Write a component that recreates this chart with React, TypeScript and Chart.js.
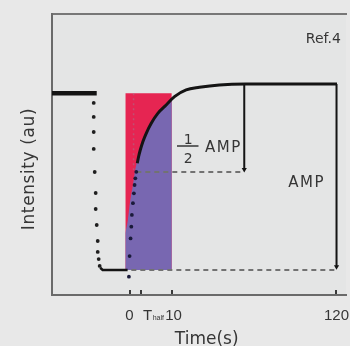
import React, { useEffect, useRef } from 'react';
import { Chart, registerables } from 'chart.js';

Chart.register(...registerables);

// Schematic (broken) time axis in display units: 0..10 s stretched, 10..120 s compressed
const xTickPositions = [0, 2.6, 10, 48.1];
const xTickLabels = ['0', 'T', '10', '120'];
const xTickSubs = ['', 'half', '', ''];
const xTickShift = [-0.5, 2, 1.5, 0.5];

const xMin = -18.1;
const xMax = 50.47;
const yMin = -13.44;
const yMax = 137.63;

// initial (pre-bleach) intensity level
const initialX = [-18.14, -7.67];
const initialY = [95, 95];

// bleach drop (dotted)
const descentX = [-8.37, -8.37, -8.37, -8.37, -8.14, -7.91, -7.91, -7.67, -7.44, -7.44, -7.21, -6.98];
const descentY = [89.8, 82.3, 74.2, 65.1, 52.7, 41.4, 32.8, 24.2, 15.6, 9.7, 5.9, 2.2];

// post-bleach low level
const lowX = [-6.86, -6.28, -0.47];
const lowY = [1.2, 0, 0];

// recovery, early dotted part
const recDotsX = [-0.16, 0, 0.23, 0.4, 0.53, 0.77, 1.0, 1.16, 1.33, 1.56];
const recDotsY = [-3.6, 7.5, 17.0, 23.3, 29.6, 35.9, 41.2, 45.7, 49.3, 52.8];

// recovery, solid part to plateau
const curveX = [1.79, 2.09, 2.49, 3.09, 3.88, 5.05, 6.58, 8.53, 10.47, 13.19, 16.28, 20.93, 27.14, 48.37];
const curveY = [57.4, 60.9, 64.5, 69.0, 73.5, 78.9, 84.2, 88.7, 93.2, 96.8, 98.2, 99.5, 100, 100];

// purple area under the recovery curve
const purpleX = [-1.0, -0.4, 0.16, 0.77, 1.23, 1.7, 2.33, 3.02, 3.84, 5.0, 6.51, 8.49, 9.84];
const purpleY = [19.9, 26.9, 37.6, 45.7, 52.7, 58.1, 64.5, 69.1, 73.7, 79.0, 84.4, 89.0, 92.2];

// red rectangle (initial level over 0..10 s window)
const redX = [-1.0, 9.84];
const redY = [95, 95];

// faint guide inside red region
const guideX = [0.93, 0.93];
const guideY = [95, 53];

const plateau = 100;
const halfLevel = 52.7;
const halfArrowX = 26.74;
const ampArrowX = 48.26;
const halfDashX = [1.56, 26.74];
const baseDashX = [0.4, 48.0];

const zip = (xs: number[], ys: number[]) => xs.map((x, i) => ({ x, y: ys[i] }));

const TEXT = '#363636';

const decor = {
  id: 'decor',
  beforeDraw(chart: any) {
    const { ctx, width, height, chartArea: ca } = chart;
    ctx.save();
    ctx.fillStyle = '#e8e8e8';
    ctx.fillRect(0, 0, width, height);
    ctx.fillStyle = '#e4e5e5';
    ctx.fillRect(ca.left, ca.top, ca.right - ca.left, ca.bottom - ca.top);
    ctx.restore();
  },
  afterDraw(chart: any) {
    const { ctx, chartArea: ca } = chart;
    const xs = chart.scales.x;
    const ys = chart.scales.y;
    ctx.save();
    ctx.fillStyle = TEXT;

    // tick marks (inside) and labels
    xTickPositions.forEach((v, i) => {
      const px = Math.round(xs.getPixelForValue(v));
      ctx.fillStyle = '#3a3a3a';
      ctx.fillRect(px - 1, ca.bottom - 5, 2, 4);
      ctx.fillStyle = TEXT;
      ctx.textBaseline = 'alphabetic';
      if (xTickSubs[i]) {
        ctx.font = '15px "Liberation Sans", Arial, sans-serif';
        ctx.textAlign = 'left';
        const tx = px + xTickShift[i];
        ctx.fillText(xTickLabels[i], tx, 319.5);
        const w = ctx.measureText(xTickLabels[i]).width;
        ctx.font = '7px "Liberation Sans", Arial, sans-serif';
        ctx.fillText(xTickSubs[i], tx + w + 0.5, 319.5);
      } else {
        ctx.font = '15px "Liberation Sans", Arial, sans-serif';
        ctx.textAlign = 'center';
        ctx.fillText(xTickLabels[i], px + xTickShift[i], 319.5);
      }
    });

    // axis titles
    ctx.font = '17px "DejaVu Sans", sans-serif';
    ctx.textAlign = 'center';
    ctx.textBaseline = 'alphabetic';
    ctx.fillText('Time(s)', 206.7, 344);

    ctx.save();
    ctx.translate(34, 169);
    ctx.rotate(-Math.PI / 2);
    (ctx as any).letterSpacing = '0.6px';
    ctx.fillText('Intensity (au)', 0, 0);
    ctx.restore();

    // Ref.4
    ctx.font = '14px "DejaVu Sans", sans-serif';
    ctx.textAlign = 'center';
    ctx.fillText('Ref.4', 323.3, 43.3);

    // 1/2 AMP
    ctx.font = '14px "DejaVu Sans", sans-serif';
    ctx.fillText('1', 188.3, 143.5);
    ctx.fillText('2', 188.3, 162.5);
    ctx.strokeStyle = TEXT;
    ctx.lineWidth = 1.5;
    ctx.beginPath();
    ctx.moveTo(177, 146);
    ctx.lineTo(198.5, 146);
    ctx.stroke();

    ctx.font = '15px "DejaVu Sans", sans-serif';
    (ctx as any).letterSpacing = '1.5px';
    ctx.textAlign = 'left';
    ctx.fillText('AMP', 205, 152.3);
    ctx.fillText('AMP', 288.3, 187.3);
    ctx.restore();
  },
};

export default function App() {
  const ref = useRef<HTMLCanvasElement | null>(null);

  useEffect(() => {
    if (!ref.current) return;
    const black = '#141414';
    const dash = '#727272';
    const arrowPts = (r: number) => ({
      pointRadius: [0, r],
      pointStyle: 'triangle',
      pointRotation: 180,
      pointBackgroundColor: black,
      pointBorderWidth: 0,
    });
    const chart = new Chart(ref.current, {
      type: 'scatter',
      data: {
        datasets: [
          {
            label: 'red',
            data: zip(redX, redY),
            showLine: true,
            borderWidth: 0,
            pointRadius: 0,
            backgroundColor: '#e62552',
            fill: { value: 0 },
            order: 20,
          } as any,
          {
            label: 'purple',
            data: zip(purpleX, purpleY),
            showLine: true,
            borderWidth: 0,
            pointRadius: 0,
            cubicInterpolationMode: 'monotone',
            backgroundColor: '#7867b1',
            fill: { value: 0 },
            order: 19,
          },
          {
            label: 'guide',
            data: zip(guideX, guideY),
            showLine: true,
            borderWidth: 1.5,
            borderColor: 'rgba(150,130,150,0.45)',
            borderDash: [2, 3],
            pointRadius: 0,
            order: 18,
          },
          {
            label: 'halfDash',
            data: zip(halfDashX, [halfLevel, halfLevel]),
            showLine: true,
            borderWidth: 2,
            borderColor: dash,
            borderDash: [5, 4],
            pointRadius: 0,
            order: 17,
          },
          {
            label: 'baseDash',
            data: zip(baseDashX, [0, 0]),
            showLine: true,
            borderWidth: 2,
            borderColor: dash,
            borderDash: [5, 4],
            pointRadius: 0,
            order: 16,
          },
          {
            label: 'halfArrow',
            data: [
              { x: halfArrowX, y: plateau },
              { x: halfArrowX, y: halfLevel + 1.3 },
            ],
            showLine: true,
            borderWidth: 2,
            borderColor: black,
            ...arrowPts(3),
            order: 15,
          },
          {
            label: 'ampArrow',
            data: [
              { x: ampArrowX, y: plateau },
              { x: ampArrowX, y: 1.8 },
            ],
            showLine: true,
            borderWidth: 2,
            borderColor: black,
            ...arrowPts(3),
            order: 14,
          },
          {
            label: 'initial',
            data: zip(initialX, initialY),
            showLine: true,
            borderWidth: 4.5,
            borderColor: black,
            borderCapStyle: 'butt',
            pointRadius: 0,
            order: 13,
          },
          {
            label: 'descent',
            data: zip(descentX, descentY),
            showLine: false,
            pointRadius: 1.9,
            pointBackgroundColor: '#1e1e1e',
            pointBorderWidth: 0,
            order: 12,
          },
          {
            label: 'low',
            data: zip(lowX, lowY),
            showLine: true,
            borderWidth: 2.5,
            borderColor: black,
            pointRadius: 0,
            order: 11,
          },
          {
            label: 'recDots',
            data: zip(recDotsX, recDotsY),
            showLine: false,
            pointRadius: 1.9,
            pointBackgroundColor: '#1a1a3a',
            pointBorderWidth: 0,
            order: 10,
          },
          {
            label: 'curve',
            data: zip(curveX, curveY),
            showLine: true,
            borderWidth: 3,
            borderColor: black,
            cubicInterpolationMode: 'monotone',
            pointRadius: 0,
            order: 9,
          },
        ],
      },
      options: {
        animation: false,
        responsive: false,
        devicePixelRatio: 1,
        events: [],
        layout: { padding: { left: 0, right: 3, top: 0, bottom: 0 } },
        plugins: {
          legend: { display: false },
          tooltip: { enabled: false },
        },
        scales: {
          x: {
            type: 'linear',
            position: 'bottom',
            min: xMin,
            max: xMax,
            grid: { display: false },
            ticks: { display: false },
            border: { display: true, color: '#6a6a6a', width: 2 },
            afterFit: (s: any) => {
              s.height = 51;
            },
          },
          xTop: {
            type: 'linear',
            position: 'top',
            min: xMin,
            max: xMax,
            grid: { display: false },
            ticks: { display: false },
            border: { display: true, color: '#777777', width: 2 },
            afterFit: (s: any) => {
              s.height = 14;
            },
          },
          y: {
            type: 'linear',
            position: 'left',
            min: yMin,
            max: yMax,
            grid: { display: false },
            ticks: { display: false },
            border: { display: true, color: '#6a6a6a', width: 2 },
            afterFit: (s: any) => {
              s.width = 52;
            },
          },
        },
      } as any,
      plugins: [decor],
    });
    return () => chart.destroy();
  }, []);

  return (
    <div style={{ position: 'fixed', left: 0, top: 0, width: 350, height: 346 }}>
      <canvas ref={ref} width={350} height={346} style={{ width: 350, height: 346, display: 'block' }} />
    </div>
  );
}
